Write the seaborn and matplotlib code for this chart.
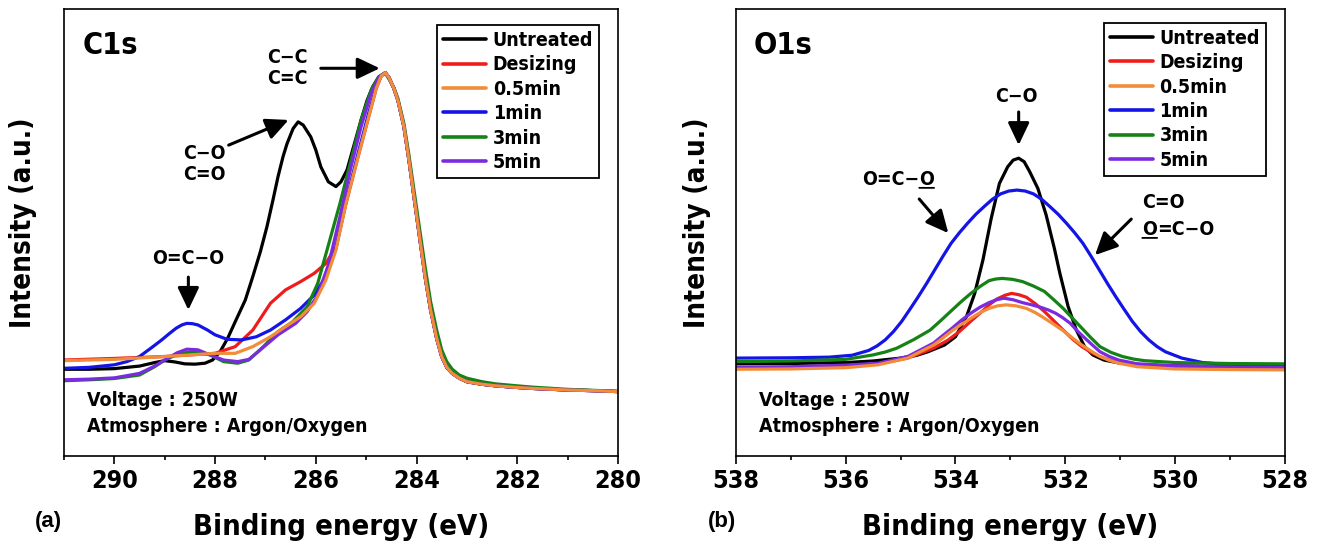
import numpy as np
import pandas as pd
import matplotlib
matplotlib.use("Agg")
import matplotlib.pyplot as plt
import seaborn as sns
from matplotlib import font_manager as fm

# ---------------- data ----------------
series_names = ["Untreated", "Desizing", "0.5min", "1min", "3min", "5min"]
series_colors = ["#000000", "#ee1c1c", "#f28c3a", "#1414e6", "#158215", "#7a2be0"]

# C1s common high-energy tail (shared by most samples)
c1s_tail_e = [284.55, 284.45, 284.37, 284.25, 284.15, 284.05, 283.94, 283.83, 283.72, 283.6, 283.5,
              283.4, 283.29, 283.15, 283.0, 282.7, 282.42, 282.0, 281.7, 281.0, 280.5, 280.0]
c1s_tail_i = [98.6, 95.1, 91.4, 83.1, 72.6, 61.1, 48.6, 36.1, 25.6, 16.7, 11.0,
              7.6, 5.7, 4.2, 3.1, 2.3, 1.8, 1.3, 1.0, 0.5, 0.3, 0.0]

c1s_untreated_e = [291.0, 290.5, 290.0, 289.5, 289.2, 289.0, 288.8, 288.6, 288.4, 288.2,
                   288.05, 287.9, 287.75, 287.6, 287.4, 287.25, 287.1, 286.97, 286.85, 286.75,
                   286.65, 286.57, 286.45, 286.35, 286.25, 286.1, 286.0, 285.9, 285.75, 285.6,
                   285.5, 285.38, 285.25, 285.1, 284.98, 284.87, 284.75, 284.62]
c1s_untreated_i = [7.0, 7.0, 7.2, 8.0, 9.1, 9.7, 9.3, 8.7, 8.6, 8.9,
                   9.9, 12.5, 16.7, 21.9, 28.7, 36.1, 43.9, 51.7, 60.1, 67.4,
                   73.7, 77.8, 82.5, 84.6, 83.6, 79.9, 75.8, 70.5, 65.8, 64.3,
                   65.8, 69.5, 76.8, 85.2, 91.4, 95.6, 98.7, 100.0]

c1s_desizing_e = [291.0, 290.0, 289.0, 288.5, 288.0, 287.6, 287.25, 286.9, 286.6, 286.3,
                  286.03, 285.8, 285.6, 285.4, 285.16, 284.95, 284.8, 284.7, 284.62]
c1s_desizing_i = [9.9, 10.4, 11.0, 11.5, 12.0, 14.1, 19.3, 27.7, 31.9, 34.5,
                  37.1, 40.2, 45.5, 59.0, 73.7, 86.2, 95.1, 99.0, 100.0]

c1s_05min_e = [291.0, 290.0, 289.0, 288.5, 288.0, 287.6, 287.25, 286.9, 286.6, 286.3,
               286.03, 285.8, 285.6, 285.4, 285.16, 284.95, 284.8, 284.7, 284.62]
c1s_05min_i = [9.7, 10.1, 11.0, 11.5, 12.0, 12.0, 14.1, 17.2, 20.4, 23.5,
               27.7, 35.0, 44.4, 59.0, 73.7, 86.2, 95.1, 99.0, 100.0]

c1s_1min_e = [291.0, 290.5, 290.0, 289.75, 289.5, 289.25, 289.06, 288.9, 288.77, 288.66,
              288.56, 288.45, 288.34, 288.15, 288.0, 287.76, 287.47, 287.18, 286.9, 286.6,
              286.3, 286.03, 285.8, 285.6, 285.4, 285.16, 284.95, 284.8, 284.7, 284.62]
c1s_1min_i = [7.3, 7.6, 8.4, 9.4, 11.0, 13.9, 16.2, 18.3, 19.9, 20.9,
              21.4, 21.3, 20.9, 19.3, 17.8, 16.4, 16.2, 17.2, 19.3, 22.5,
              26.1, 30.3, 36.1, 44.9, 59.6, 74.7, 87.3, 95.6, 99.1, 100.0]

c1s_3min_e = [291.0, 290.5, 290.0, 289.5, 289.2, 289.0, 288.7, 288.4, 288.1, 287.83,
              287.55, 287.33, 287.04, 286.75, 286.46, 286.17, 285.96, 285.74, 285.52, 285.3,
              285.1, 284.9, 284.75, 284.62, 284.45, 284.37, 284.25, 284.15, 284.05, 283.94,
              283.83, 283.72, 283.6, 283.5, 283.4, 283.29, 283.15, 283.0, 282.7, 282.42,
              282.0, 281.7, 281.0, 280.5, 280.0]
c1s_3min_i = [3.4, 3.7, 4.1, 5.2, 7.8, 9.9, 12.0, 12.5, 11.5, 9.4,
              8.9, 9.9, 14.1, 18.8, 21.9, 26.6, 34.0, 46.5, 59.0, 72.6,
              85.2, 94.6, 98.7, 100.0, 95.4, 92.0, 84.1, 74.2, 63.2, 51.2,
              39.2, 28.2, 19.3, 13.1, 9.4, 7.0, 5.2, 4.2, 3.1, 2.4,
              1.8, 1.4, 0.7, 0.4, 0.1]

c1s_5min_e = [291.0, 290.5, 290.0, 289.5, 289.2, 289.0, 288.75, 288.56, 288.34, 288.1,
              287.83, 287.55, 287.33, 287.1, 286.75, 286.4, 286.17, 285.96, 285.74, 285.52,
              285.3, 285.1, 284.9, 284.75, 284.62]
c1s_5min_i = [3.7, 3.9, 4.3, 5.7, 8.0, 9.9, 12.2, 13.3, 13.1, 11.5,
              9.9, 9.4, 10.1, 13.1, 17.8, 21.4, 25.1, 30.3, 40.2, 54.9,
              70.5, 83.1, 93.5, 98.4, 100.0]

o1s_untreated_e = [538, 537, 536, 535.5, 535, 534.7, 534.5, 534.2, 534.0, 533.8,
                   533.65, 533.5, 533.35, 533.2, 533.05, 532.95, 532.85, 532.75, 532.65, 532.5,
                   532.35, 532.2, 532.1, 531.95, 531.8, 531.65, 531.5, 531.3, 531.0, 530.5,
                   530, 529, 528]
o1s_untreated_i = [1.9, 2.0, 2.3, 2.8, 3.7, 4.6, 5.7, 7.8, 10.4, 16.7,
                   24.0, 34.5, 47.5, 58.5, 63.7, 65.8, 66.4, 65.3, 62.2, 56.9,
                   48.6, 38.1, 30.3, 19.9, 12.5, 7.3, 4.7, 3.1, 2.1, 1.5,
                   1.3, 1.0, 0.9]

o1s_desizing_e = [538, 537, 536, 535.41, 534.87, 534.4, 534.14, 533.93, 533.72, 533.52,
                  533.38, 533.25, 533.1, 532.98, 532.85, 532.71, 532.55, 532.38, 532.21, 532.04,
                  531.87, 531.7, 531.53, 531.37, 531.2, 531.03, 530.5, 530, 529, 528]
o1s_desizing_i = [0.5, 0.7, 1.3, 1.9, 3.7, 6.8, 9.3, 12.0, 15.3, 18.3,
                  20.5, 22.2, 23.4, 24.0, 23.6, 22.8, 20.8, 18.3, 15.4, 12.5,
                  9.7, 7.3, 5.5, 4.2, 3.1, 2.3, 1.5, 1.0, 0.6, 0.4]

o1s_05min_e = [538, 537, 536, 535.41, 534.87, 534.4, 534.23, 534.06, 533.89, 533.72,
               533.55, 533.39, 533.23, 533.08, 532.9, 532.71, 532.55, 532.38, 532.21, 532.04,
               531.87, 531.7, 531.53, 531.37, 531.2, 531.03, 530.69, 530, 529, 528]
o1s_05min_i = [0.2, 0.3, 0.7, 1.6, 3.7, 7.8, 10.0, 12.3, 14.3, 16.2,
               18.0, 19.3, 20.1, 20.4, 20.1, 19.3, 18.0, 16.2, 14.3, 12.3,
               10.0, 7.8, 5.9, 4.2, 3.0, 2.1, 1.0, 0.3, 0.1, 0.0]

o1s_1min_e = [538, 537, 536.3, 535.88, 535.58, 535.43, 535.28, 535.13, 534.98, 534.83,
              534.68, 534.53, 534.38, 534.23, 534.08, 533.93, 533.78, 533.63, 533.48, 533.33,
              533.18, 533.03, 532.88, 532.73, 532.58, 532.43, 532.28, 532.13, 531.98, 531.83,
              531.68, 531.53, 531.38, 531.23, 531.08, 530.93, 530.78, 530.63, 530.48, 530.33,
              530.18, 529.88, 529.5, 529, 528]
o1s_1min_i = [3.7, 3.8, 4.0, 4.6, 6.1, 7.5, 9.4, 12.0, 15.2, 19.0,
              22.9, 27.0, 31.3, 35.6, 39.7, 43.0, 46.0, 48.8, 51.2, 53.5,
              55.2, 56.1, 56.4, 56.1, 55.2, 53.5, 51.2, 48.8, 46.0, 43.0,
              39.7, 35.6, 31.3, 27.0, 22.9, 19.0, 15.2, 12.0, 9.4, 7.3,
              5.7, 3.7, 2.3, 1.6, 1.0]

o1s_3min_e = [538, 537, 536, 535.5, 535.28, 535.07, 534.76, 534.46, 534.26, 534.06,
              533.89, 533.72, 533.55, 533.39, 533.27, 533.15, 532.96, 532.78, 532.58, 532.38,
              532.21, 532.04, 531.87, 531.7, 531.53, 531.37, 531.17, 530.96, 530.76, 530.56,
              530, 529, 528]
o1s_3min_i = [2.6, 2.8, 3.3, 4.7, 5.6, 6.8, 9.5, 12.5, 15.6, 18.8,
              21.5, 24.0, 26.2, 28.0, 28.5, 28.7, 28.4, 27.7, 26.3, 24.6,
              22.0, 19.3, 16.2, 13.1, 10.0, 7.3, 5.5, 4.2, 3.4, 2.9,
              2.3, 2.0, 1.9]

o1s_5min_e = [538, 537, 536, 535.41, 534.87, 534.4, 534.23, 534.06, 533.89, 533.72,
              533.55, 533.39, 533.25, 533.12, 532.95, 532.78, 532.61, 532.44, 532.31, 532.18,
              532.05, 531.91, 531.78, 531.64, 531.5, 531.37, 531.2, 531.03, 530.69, 530,
              529, 528]
o1s_5min_i = [0.8, 1.0, 1.5, 2.1, 4.2, 8.4, 10.8, 13.1, 15.6, 17.8,
              19.7, 21.1, 22.0, 22.5, 22.0, 21.1, 20.4, 19.6, 18.8, 17.8,
              16.4, 14.6, 12.2, 9.9, 7.7, 5.7, 4.2, 3.1, 1.9, 1.3,
              0.9, 0.8]

x_ticks_c1s = [290, 288, 286, 284, 282, 280]
x_ticks_o1s = [538, 536, 534, 532, 530, 528]

# ---------------- build long tables ----------------
def long_table(pairs):
    frames = []
    for name, (e, i) in zip(series_names, pairs):
        frames.append(pd.DataFrame({"energy": e, "intensity": i, "sample": name}))
    return pd.concat(frames, ignore_index=True)

c1s_df = long_table([
    (c1s_untreated_e + c1s_tail_e, c1s_untreated_i + c1s_tail_i),
    (c1s_desizing_e + c1s_tail_e, c1s_desizing_i + c1s_tail_i),
    (c1s_05min_e + c1s_tail_e, c1s_05min_i + c1s_tail_i),
    (c1s_1min_e + c1s_tail_e, c1s_1min_i + c1s_tail_i),
    (c1s_3min_e, c1s_3min_i),
    (c1s_5min_e + c1s_tail_e, c1s_5min_i + c1s_tail_i),
])
o1s_df = long_table([
    (o1s_untreated_e, o1s_untreated_i),
    (o1s_desizing_e, o1s_desizing_i),
    (o1s_05min_e, o1s_05min_i),
    (o1s_1min_e, o1s_1min_i),
    (o1s_3min_e, o1s_3min_i),
    (o1s_5min_e, o1s_5min_i),
])

# ---------------- style ----------------
sns.set_theme(style="ticks")

def pick_font():
    cands = []
    for f in fm.fontManager.ttflist:
        fn = f.fname.lower()
        if ("condensed" in fn or "narrow" in fn) and "bold" in fn and "semi" not in fn \
                and "extra" not in fn and "oblique" not in fn and "italic" not in fn:
            cands.append(f)
    pref = ["dejavusanscondensed-bold", "robotocondensed-bold", "liberationsansnarrow-bold",
            "notosans-condensedbold", "opensans-condbold"]
    for p in pref:
        for f in cands:
            if p in f.fname.lower().replace("_", "-"):
                return f.name, "condensed"
    if cands:
        return cands[0].name, "condensed"
    return "Roboto", "normal"

FONT_NAME, FONT_STRETCH = pick_font()
plt.rcParams["font.family"] = [FONT_NAME, "DejaVu Sans"]
plt.rcParams["font.weight"] = "bold"
plt.rcParams["font.stretch"] = FONT_STRETCH
plt.rcParams["axes.labelweight"] = "bold"
plt.rcParams["text.color"] = "black"
plt.rcParams["axes.labelcolor"] = "black"
plt.rcParams["axes.edgecolor"] = "black"
plt.rcParams["xtick.color"] = "black"
plt.rcParams["xtick.labelcolor"] = "black"

fig = plt.figure(figsize=(13.19, 5.48), dpi=100)
fig.patch.set_facecolor("white")
ax1 = fig.add_axes([0.0485, 0.1679, 0.4200, 0.8157])
ax2 = fig.add_axes([0.5578, 0.1679, 0.4165, 0.8157])

draw_order = ["Untreated", "Desizing", "1min", "3min", "5min", "0.5min"]
palette = dict(zip(series_names, series_colors))

def draw(ax, df):
    for name in draw_order:
        sub = df[df["sample"] == name]
        sns.lineplot(data=sub, x="energy", y="intensity", color=palette[name],
                     sort=False, estimator=None, lw=2.3, ax=ax, label=name)
    handles, labels = ax.get_legend_handles_labels()
    hmap = dict(zip(labels, handles))
    return [hmap[n] for n in series_names]

h1 = draw(ax1, c1s_df)
h2 = draw(ax2, o1s_df)

for ax, lim, ticks, yl, lx, ly in [
        (ax1, (291, 280), x_ticks_c1s, (-20.2, 120.0), -0.074, 0.521),
        (ax2, (538, 528), x_ticks_o1s, (-27.0, 113.2), -0.0705, 0.521)]:
    ax.set_xlim(*lim)
    ax.set_ylim(*yl)
    ax.set_xticks(ticks)
    ax.xaxis.set_minor_locator(matplotlib.ticker.MultipleLocator(1))
    ax.set_yticks([])
    ax.tick_params(axis="x", which="major", direction="out", length=6, width=1.2,
                   labelsize=18, pad=3.5, bottom=True, top=False)
    ax.tick_params(axis="x", which="minor", direction="out", length=3, width=1.2,
                   bottom=True, top=False)
    for s in ax.spines.values():
        s.set_visible(True)
        s.set_linewidth(1.2)
        s.set_color("black")
    ax.set_xlabel("Binding energy (eV)", fontsize=21, fontweight="bold")
    ax.xaxis.label.set_va("center")
    ax.xaxis.set_label_coords(0.5, -0.159)
    ax.set_ylabel("Intensity (a.u.)", fontsize=20, fontweight="bold")
    ax.yaxis.label.set_va("center")
    ax.yaxis.set_label_coords(lx, ly)

leg_kw = dict(loc="upper right", fontsize=14, frameon=True, fancybox=False, framealpha=1,
              edgecolor="black", borderaxespad=0, handlelength=2.2, handletextpad=0.35,
              labelspacing=0.28, borderpad=0.3)
lg1 = ax1.legend(h1, series_names, bbox_to_anchor=(0.966, 0.964), **leg_kw)
lg2 = ax2.legend(h2, series_names, bbox_to_anchor=(0.965, 0.969), **leg_kw)
for lg in (lg1, lg2):
    lg.get_frame().set_linewidth(1.3)
    for ln in lg.get_lines():
        ln.set_linewidth(2.6)
    for t in lg.get_texts():
        t.set_color("black")

arrow = dict(arrowstyle="-|>,head_length=1.05,head_width=0.5", lw=2.2, color="black",
             mutation_scale=13, shrinkA=0, shrinkB=0)
tfs = 14

# ---- C1s panel annotations ----
ax1.text(0.034, 0.919, "C1s", transform=ax1.transAxes, fontsize=22, ha="left", va="center")
ax1.text(286.57, 101.5, "C\u2212C\nC=C", fontsize=tfs, ha="center", va="center", linespacing=1.15)
ax1.annotate("", xy=(284.73, 101.4), xytext=(285.9, 101.4), arrowprops=arrow)
ax1.text(288.22, 71.4, "C\u2212O\nC=O", fontsize=tfs, ha="center", va="center", linespacing=1.15)
ax1.annotate("", xy=(286.54, 85.2), xytext=(287.73, 77.3), arrowprops=arrow)
ax1.text(288.54, 41.6, "O=C\u2212O", fontsize=tfs, ha="center", va="center")
ax1.annotate("", xy=(288.53, 25.6), xytext=(288.53, 35.9), arrowprops=arrow)
ax1.text(0.0415, 0.125, "Voltage : 250W", transform=ax1.transAxes, fontsize=14,
         ha="left", va="center")
ax1.text(0.0415, 0.065, "Atmosphere : Argon/Oxygen", transform=ax1.transAxes, fontsize=14,
         ha="left", va="center")

# ---- O1s panel annotations ----
ax2.text(0.033, 0.919, "O1s", transform=ax2.transAxes, fontsize=22, ha="left", va="center")
ax2.text(532.9, 85.6, "C\u2212O", fontsize=tfs, ha="center", va="center")
ax2.annotate("", xy=(532.85, 70.5), xytext=(532.85, 80.9), arrowprops=arrow)

t_a = ax2.text(534.66, 59.6, "O=C\u2212", fontsize=tfs, ha="right", va="center")
fig.canvas.draw()
t_b = ax2.annotate("O", xy=(1, 0), xycoords=t_a, fontsize=tfs, ha="left", va="bottom")
ax2.annotate("", xy=(1, 0.08), xycoords=t_b, xytext=(0, 0.08), textcoords=t_b,
             arrowprops=dict(arrowstyle="-", lw=1.3, color="black", shrinkA=0, shrinkB=0))
ax2.annotate("", xy=(534.13, 42.9), xytext=(534.66, 53.6), arrowprops=arrow)

ax2.text(530.6, 52.4, "C=O", fontsize=tfs, ha="left", va="center")
t_c = ax2.text(530.6, 43.9, "O", fontsize=tfs, ha="left", va="center")
ax2.annotate("=C\u2212O", xy=(1, 0), xycoords=t_c, fontsize=tfs, ha="left", va="bottom")
ax2.annotate("", xy=(1, 0.08), xycoords=t_c, xytext=(0, 0.08), textcoords=t_c,
             arrowprops=dict(arrowstyle="-", lw=1.3, color="black", shrinkA=0, shrinkB=0))
ax2.annotate("", xy=(531.46, 36.0), xytext=(530.8, 47.3), arrowprops=arrow)

ax2.text(0.0415, 0.125, "Voltage : 250W", transform=ax2.transAxes, fontsize=14,
         ha="left", va="center")
ax2.text(0.0415, 0.065, "Atmosphere : Argon/Oxygen", transform=ax2.transAxes, fontsize=14,
         ha="left", va="center")

# panel letters
fig.text(48 / 1319, 1 - 521 / 548, "(a)", fontsize=16, fontweight="bold", color="black",
         family=["Liberation Sans", "DejaVu Sans"], stretch="normal", ha="center", va="center")
fig.text(722 / 1319, 1 - 521 / 548, "(b)", fontsize=16, fontweight="bold", color="black",
         family=["Liberation Sans", "DejaVu Sans"], stretch="normal", ha="center", va="center")

fig.savefig("out.png", dpi=100, facecolor="white")
